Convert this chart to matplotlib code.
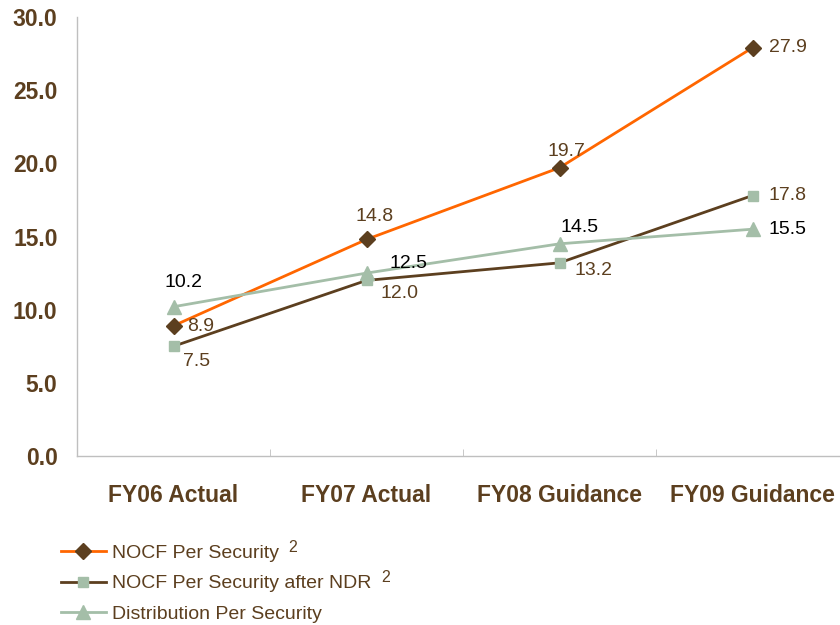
import matplotlib
matplotlib.use("Agg")
import matplotlib.pyplot as plt

# ------------------------------------------------------
# data
# ------------------------------------------------------
periods = ["FY06 Actual", "FY07 Actual", "FY08 Guidance", "FY09 Guidance"]
nocf = [8.9, 14.8, 19.7, 27.9]
nocf_after_ndr = [7.5, 12.0, 13.2, 17.8]
distribution = [10.2, 12.5, 14.5, 15.5]
y_ticks = [0.0, 5.0, 10.0, 15.0, 20.0, 25.0, 30.0]
series_names = ["NOCF Per Security", "NOCF Per Security after NDR",
                "Distribution Per Security"]
footnotes = ["2", "2", ""]

# label offsets in pixels (dx, dy), per series
nocf_offsets = [(27, -1), (8, 23), (7, 16), (35, 0)]
ndr_offsets = [(23, -15), (33, -13), (34, -8), (35, 0)]
dist_offsets = [(10, 24), (42, 10), (20, 16), (35, 0)]

ORANGE = "#ff6600"
BROWN = "#5c3f1f"
SAGE = "#a4bea8"

plt.rcParams["font.family"] = ["Liberation Sans", "DejaVu Sans"]

fig = plt.figure(figsize=(8.4, 6.25), dpi=100)
ax = fig.add_axes([77 / 840, 169 / 625, 772 / 840, 439 / 625])

x = list(range(len(periods)))
ax.plot(x, nocf, color=ORANGE, lw=2.0, marker="D", ms=8,
        mfc=BROWN, mec=BROWN, label=series_names[0])
ax.plot(x, nocf_after_ndr, color=BROWN, lw=2.0, marker="s", ms=7,
        mfc=SAGE, mec=SAGE, label=series_names[1])
ax.plot(x, distribution, color=SAGE, lw=2.0, marker="^", ms=10,
        mfc=SAGE, mec=SAGE, label=series_names[2])

def add_labels(values, offsets, color):
    for xi, v, (dx, dy) in zip(x, values, offsets):
        ax.annotate(f"{v:.1f}", (xi, v), xytext=(dx, dy),
                    textcoords="offset pixels", ha="center", va="center",
                    fontsize=14, color=color)

add_labels(nocf, nocf_offsets, BROWN)
add_labels(nocf_after_ndr, ndr_offsets, BROWN)
add_labels(distribution, dist_offsets, "black")

ax.set_xlim(-0.5, 3.5)
ax.set_ylim(0, 30)
ax.set_yticks(y_ticks)
ax.set_yticklabels([f"{t:.1f}" for t in y_ticks], fontsize=16.5,
                   fontweight="bold", color=BROWN)
ax.tick_params(axis="y", length=0, pad=14)

ax.set_xticks(x)
ax.set_xticklabels(periods, fontsize=16.5, fontweight="bold", color=BROWN)
ax.set_xticks([0.5, 1.5, 2.5], minor=True)
ax.tick_params(axis="x", which="major", length=0, pad=20)
ax.tick_params(axis="x", which="minor", direction="in", length=5,
               color="#bfbfbf")

for side in ["top", "right"]:
    ax.spines[side].set_visible(False)
for side in ["left", "bottom"]:
    ax.spines[side].set_color("#bfbfbf")
    ax.spines[side].set_linewidth(1.0)

leg = fig.legend(loc="upper left", bbox_to_anchor=(61 / 840, 1 - 544 / 625),
                 frameon=False, fontsize=14, handlelength=2.3,
                 handletextpad=0.3, labelspacing=0.68, borderpad=0,
                 borderaxespad=0)
for t in leg.get_texts():
    t.set_color(BROWN)

# superscript footnote marks after the legend labels
fig.canvas.draw()
renderer = fig.canvas.get_renderer()
for t, note in zip(leg.get_texts(), footnotes):
    if not note:
        continue
    bb = t.get_window_extent(renderer)
    fig.text(bb.x1 + 10, bb.y1 + 5, note, transform=None, fontsize=11.5,
             color=BROWN, ha="left", va="top")

fig.savefig("out.png", dpi=100)
